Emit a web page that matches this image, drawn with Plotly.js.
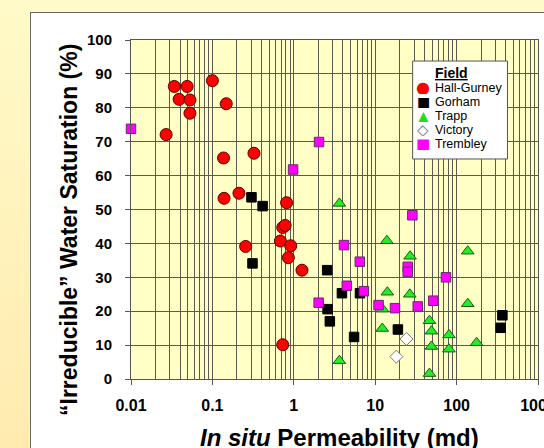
<!DOCTYPE html>
<html>
<head>
<meta charset="utf-8">
<script src="https://cdn.plot.ly/plotly-3.0.1.min.js"></script>
<style>
  html, body { margin: 0; padding: 0; width: 544px; height: 448px; overflow: hidden; }
  body { background: linear-gradient(180deg, #FFFAC8 0%, #FFF3BC 50%, #FFEBB0 100%); position: relative; }
  #panel { position: absolute; left: 30px; top: 12px; width: 620px; height: 520px; background: #FFFFFF; border: 1.5px solid #6a6a6a; box-sizing: border-box; }
  #chart { position: absolute; left: 0; top: 0; width: 544px; height: 448px; }
</style>
</head>
<body>
<div id="panel"></div>
<div id="chart"></div>
<script>
// Field data: in situ permeability (md) and "irreducible" water saturation (%)
const hallGurneyK  = [0.034, 0.049, 0.039, 0.053, 0.053, 0.100, 0.148, 0.027, 0.137, 0.324, 0.139, 0.212, 0.815, 0.731, 0.783, 0.684, 0.917, 0.857, 0.256, 1.26, 0.731];
const hallGurneySw = [86.3, 86.3, 82.5, 82.3, 78.4, 88.0, 81.2, 72.1, 65.2, 66.6, 53.3, 54.8, 52.0, 44.7, 45.3, 40.7, 39.3, 35.8, 39.1, 32.1, 10.1];

const gorhamK  = [0.302, 0.414, 0.311, 2.57, 2.6, 2.77, 3.9, 6.5, 5.5, 19, 365, 348];
const gorhamSw = [53.6, 51.0, 34.1, 32.1, 20.6, 17.0, 25.3, 25.3, 12.4, 14.6, 18.8, 15.1];

const trappK  = [3.63, 13.9, 26.8, 137, 14.1, 26.6, 137, 12.3, 12.2, 46.4, 49.1, 80.5, 176, 49.1, 80.5, 3.63, 46.4];
const trappSw = [51.8, 40.8, 36.2, 37.7, 25.6, 25.0, 22.2, 20.6, 14.9, 17.2, 14.1, 13.0, 10.7, 9.6, 8.8, 5.4, 1.6];

const victoryK  = [24.2, 18.2];
const victorySw = [11.8, 6.6];

const trembleyK  = [0.01, 2.04, 0.98, 28.6, 4.14, 6.47, 25.1, 25.1, 74, 4.48, 7.25, 2.02, 11.0, 17.5, 33.3, 51.6];
const trembleySw = [73.8, 69.9, 61.8, 48.3, 39.5, 34.6, 33.1, 31.6, 30.0, 27.5, 25.9, 22.5, 21.8, 20.9, 21.4, 23.1];

const fieldNames = ['Hall-Gurney', 'Gorham', 'Trapp', 'Victory', 'Trembley'];
const legendGlyphs = ['●', '■', '▲', '◇', '■'];

const xTickVals = [0.01, 0.1, 1, 10, 100, 1000];
const xTickText = ['0.01', '0.1', '1', '10', '100', '1000'];

const FONT = 'Arial, "Liberation Sans", sans-serif';
const GRID = '#5a5a50';

const markers = [
  { symbol: 'circle', size: 12, color: '#FF0000', line: { color: '#5a0000', width: 1 } },
  { symbol: 'square', size: 9.5, color: '#000000', line: { color: '#000000', width: 1 } },
  { symbol: 'triangle-up', size: 11, color: '#22EE22', line: { color: '#1a5a1a', width: 1 } },
  { symbol: 'diamond', size: 10, color: '#FFFFFF', line: { color: '#777777', width: 1 } },
  { symbol: 'square', size: 9.5, color: '#FF00FF', line: { color: '#6a2a6a', width: 1 } }
];
const glyphColors = ['#FF0000', '#000000', '#22DD22', '#777777', '#FF00FF'];
const glyphSizes = [16, 14, 14, 15, 15];

const xs = [hallGurneyK, gorhamK, trappK, victoryK, trembleyK];
const ys = [hallGurneySw, gorhamSw, trappSw, victorySw, trembleySw];

const data = fieldNames.map((n, i) => ({
  type: 'scatter', mode: 'markers', name: n, x: xs[i], y: ys[i],
  marker: markers[i], cliponaxis: false, showlegend: false
}));

// Legend box built from annotations (layout positions in paper units)
const legX0 = 0.692, legX1 = 0.925, legY0 = 0.649, legY1 = 0.938;
const entryTop = 0.859, entryStep = 0.0412;
const annotations = [
  { xref: 'paper', yref: 'paper', x: 0.743, y: 0.9035, xanchor: 'left', yanchor: 'middle', showarrow: false,
    text: '<b><u>Field</u></b>', font: { family: FONT, size: 14, color: '#000' } },
  { xref: 'paper', yref: 'paper', x: -0.152, y: 0.44, xanchor: 'center', yanchor: 'middle', showarrow: false, textangle: -90,
    text: '“Irreducible” Water Saturation (%)', font: { family: FONT, size: 23, weight: 'bold', color: '#000' } },
  { xref: 'paper', yref: 'paper', x: 0.5135, y: -0.172, xanchor: 'center', yanchor: 'middle', showarrow: false,
    text: '<i>In situ</i> Permeability (md)', font: { family: FONT, size: 24, weight: 'bold', color: '#000' } }
];
fieldNames.forEach((n, i) => {
  const yy = entryTop - i * entryStep;
  annotations.push({ xref: 'paper', yref: 'paper', x: 0.718, y: yy, xanchor: 'center', yanchor: 'middle', showarrow: false,
    height: 13, text: legendGlyphs[i], font: { family: '"DejaVu Sans", sans-serif', size: glyphSizes[i], color: glyphColors[i] } });
  annotations.push({ xref: 'paper', yref: 'paper', x: 0.743, y: yy, xanchor: 'left', yanchor: 'middle', showarrow: false,
    text: n, font: { family: FONT, size: 12.5, color: '#000' } });
});

const layout = {
  width: 544, height: 448,
  margin: { l: 131, r: 6, t: 40, b: 69, pad: 0 },
  paper_bgcolor: 'rgba(0,0,0,0)',
  plot_bgcolor: '#FFFFC6',
  font: { family: FONT, color: '#000000' },
  showlegend: false,
  xaxis: {
    type: 'log', range: [-2, 3],
    tickvals: xTickVals, ticktext: xTickText,
    tickfont: { family: FONT, size: 16, weight: 'bold', color: '#000' },
    ticks: 'outside', ticklen: 5, tickcolor: '#555', ticklabelstandoff: 7,
    ticklabeloverflow: 'allow',
    showgrid: true, gridcolor: GRID, gridwidth: 1,
    minor: { dtick: 'D1', showgrid: true, gridcolor: GRID, gridwidth: 1, ticks: '' },
    showline: true, linecolor: '#555', linewidth: 1, mirror: true,
    zeroline: false, automargin: false
  },
  yaxis: {
    range: [0, 100], dtick: 10,
    tickfont: { family: FONT, size: 15, weight: 'bold', color: '#000' },
    ticks: 'outside', ticklen: 5, tickcolor: '#555', ticklabelstandoff: 10,
    showgrid: true, gridcolor: GRID, gridwidth: 1,
    showline: true, linecolor: '#555', linewidth: 1, mirror: true,
    zeroline: false, automargin: false
  },
  shapes: [
    { type: 'rect', xref: 'paper', yref: 'paper', x0: legX0, x1: legX1, y0: legY0, y1: legY1,
      fillcolor: '#FFFFFF', line: { color: '#555', width: 1 }, layer: 'above' }
  ],
  annotations: annotations
};

Plotly.newPlot('chart', data, layout, { displayModeBar: false, staticPlot: true });
</script>
</body>
</html>
